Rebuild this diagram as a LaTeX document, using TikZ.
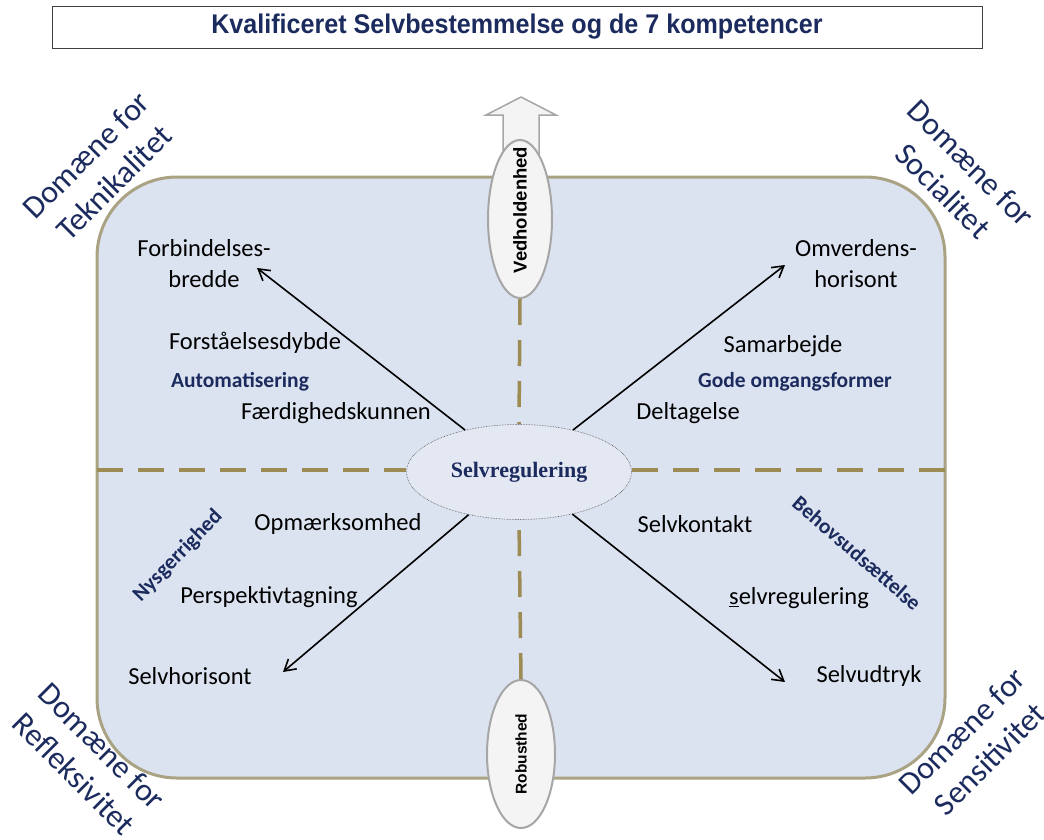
\documentclass[tikz,border=0pt]{standalone}
\usepackage{fontspec}
\setmainfont{Carlito}
\newfontfamily\arialf{Liberation Sans}
\newfontfamily\serifb{Liberation Serif}
\usetikzlibrary{arrows.meta,shapes.geometric}
\definecolor{navy}{HTML}{1C2B5E}
\definecolor{boxfill}{HTML}{DCE3F0}
\definecolor{boxline}{HTML}{A9A283}
\definecolor{dashcol}{HTML}{9C8B52}
\definecolor{ovline}{HTML}{A6A6A6}
\definecolor{ovfill}{HTML}{F4F4F4}
\definecolor{cfill}{HTML}{E3E8F3}
\tikzset{
  body/.style={font=\fontsize{24.5}{29}\selectfont, text=black, inner sep=0pt},
  lbl/.style={font=\fontsize{21.5}{24}\selectfont\bfseries, text=navy, inner sep=0pt},
  corner/.style={font=\fontsize{32}{39}\selectfont, text=navy, align=center, inner sep=0pt},
  divider/.style={draw=dashcol, line width=3.5pt, dash pattern=on 26pt off 15pt},
  spoke/.style={draw=black, line width=1.6pt, -{Straight Barb[length=11pt,width=13pt,line width=1.6pt]}},
  oval/.style={ellipse, draw=ovline, fill=ovfill, line width=2pt, inner sep=0pt},
}
\begin{document}
\begin{tikzpicture}[x=1pt,y=-1pt]
\useasboundingbox (0,0) rectangle (1044,839);
% title
\node[draw=black!75, line width=1pt, minimum width=930pt, minimum height=42pt, inner sep=0pt] (title) at (517,27) {};
\node[text=navy, inner sep=0pt] (titletext) at (title.center) {\scalebox{0.93}[1]{\arialf\bfseries\fontsize{27}{30}\selectfont Kvalificeret Selvbestemmelse og de 7 kompetencer}};
% block arrow up
\draw[draw=ovline, fill=ovfill, line width=1.5pt] (503,160) -- (503,115) -- (486,115) -- (521,97) -- (556,115) -- (539,115) -- (539,160);
% main rounded box
\draw[draw=boxline, fill=boxfill, line width=3pt, rounded corners=80pt] (97,177) rectangle (945,778);
% ellipses
\node[oval, minimum width=64pt, minimum height=158pt] (ved) at (520,219) {};
\node[rotate=90, inner sep=0pt, font=\arialf\bfseries\fontsize{18.5}{20}\selectfont] (vedt) at (520,210) {Vedholdenhed};
\node[oval, minimum width=68pt, minimum height=148pt] (rob) at (521,754) {};
\node[rotate=90, inner sep=0pt, font=\arialf\bfseries\fontsize{15.5}{18}\selectfont] (robt) at (rob.center) {Robusthed};
\node[ellipse, draw=black!70, densely dotted, line width=0.6pt, fill=cfill, minimum width=225pt, minimum height=95pt, inner sep=0pt] (c) at (519,472) {};
\node[inner sep=0pt, text=navy, font=\serifb\bfseries\fontsize{22}{24}\selectfont] (ct) at (c.center) {Selvregulering};
% dividers
\coordinate (hl) at (97,470);
\coordinate (hr) at (945,470);
\draw[divider] (hl) -- (c.west |- hl);
\draw[divider] (hr) -- (c.east |- hr);
\draw[divider] (ved.south) -- (c.north);
\draw[divider] (rob.north) -- (c.south);
% spokes
\coordinate (nw) at (257,268);
\coordinate (ne) at (785,265);
\coordinate (sw) at (283,672);
\coordinate (se) at (785,682);
\draw[spoke] (c) -- (nw);
\draw[spoke] (c) -- (ne);
\draw[spoke] (c) -- (sw);
\draw[spoke] (c) -- (se);
% NW texts
\node[body, align=center] (t1) at (204,264) {Forbindelses-\\[2pt]bredde};
\node[body] (t2) at (255,343) {Forståelsesdybde};
\node[lbl] (t3) at (240,382) {Automatisering};
\node[body] (t4) at (336,413) {Færdighedskunnen};
% NE texts
\node[body, align=center] (t5) at (856,264) {Omverdens-\\[2pt]horisont};
\node[body] (t6) at (783,346) {Samarbejde};
\node[lbl] (t7) at (795,382) {Gode omgangsformer};
\node[body] (t8) at (688,413) {Deltagelse};
% SW texts
\node[body] (t9) at (338,524) {Opmærksomhed};
\node[body] (t10) at (269,597) {Perspektivtagning};
\node[body] (t11) at (190,676) {Selvhorisont};
\node[lbl, rotate=46] (t12) at (178,556) {Nysgerrighed};
% SE texts
\node[body] (t13) at (695,524) {Selvkontakt};
\node[body] (t14) at (799,598) {\underline{s}elvregulering};
\node[body] (t15) at (869,676) {Selvudtryk};
\node[lbl, rotate=-41] (t16) at (857,553) {Behovsudsættelse};
% corner labels
\node[corner, rotate=45] (d1) at (100,169) {Domæne for\\Teknikalitet};
\node[corner, rotate=-45] (d2) at (957,177) {Domæne for\\Socialitet};
\node[corner, rotate=-45] (d3) at (88,760) {Domæne for\\Refleksivitet};
\node[corner, rotate=45] (d4) at (976,745) {Domæne for\\Sensitivitet};
\end{tikzpicture}
\end{document}
